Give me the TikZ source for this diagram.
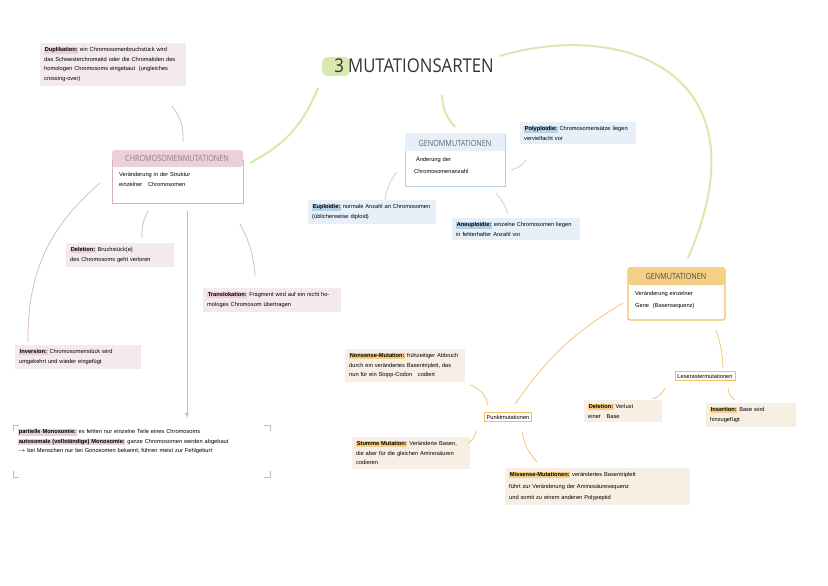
\documentclass[tikz,border=0pt]{standalone}
\usepackage{fontspec}
\setmainfont{Liberation Sans}
\newfontfamily\titlefont{Open Sans}
\definecolor{pfill}{HTML}{F4EAEE}
\definecolor{pband}{HTML}{EBCFDA}
\definecolor{pline}{HTML}{D4B2BF}
\definecolor{bfill}{HTML}{E7F0F9}
\definecolor{bline}{HTML}{B3D0E6}
\definecolor{ofill}{HTML}{F8EFE4}
\definecolor{oline}{HTML}{F1C063}
\definecolor{oband}{HTML}{F6CF86}
\definecolor{gline}{HTML}{D7E9AC}
\newcommand{\hl}[2]{{\setlength{\fboxsep}{0.6pt}\colorbox{#1}{\textbf{#2}}}}
\tikzset{
 txt/.style={font=\fontsize{5.7}{9.5}\selectfont, align=left, inner sep=4pt, anchor=north west},
 pbox/.style={txt, fill=pfill},
 bbox/.style={txt, fill=bfill},
 obox/.style={txt, fill=ofill},
 pcon/.style={draw=pline, line width=0.7pt},
 bcon/.style={draw=bline, line width=0.7pt},
 ocon/.style={draw=oline, line width=0.7pt},
 gcon/.style={draw=gline, line width=2pt},
 head/.style={font=\titlefont\fontsize{8.5}{10}\selectfont, inner sep=1pt, xscale=0.85},
}
\begin{document}
\begin{tikzpicture}[x=1pt,y=-1pt]
\useasboundingbox (0,0) rectangle (828,586);
% title
\fill[gline, rounded corners=6pt] (322,57) rectangle (350,76);
\node[font=\titlefont\fontsize{19}{20}\selectfont, text=black!80, xscale=0.88] (title) at (414,66) {3 MUTATIONSARTEN};

% Chromosomenmutationen
\fill[pband, rounded corners=3pt] (112,150) rectangle (243,167);
\draw[pline, line width=1pt] (112,160) -- (112,203) -- (243,203) -- (243,160);
\node[head, text=pline!70!black] at (177,158) {CHROMOSOMENMUTATIONEN};
\node[txt, text width=122pt] (chr) at (115,168) {Veränderung in der Struktur\\[1pt] einzelner\quad Chromosomen};

\node[pbox, text width=138pt] (dup) at (40,43) {\hl{pband}{Duplikation:} ein Chromosomenbruchstück wird das Schwesterchromatid oder die Chromatiden des homologen Chromosoms eingebaut \ (ungleiches crossing-over)};
\node[pbox, text width=100pt] (del) at (66,243) {\hl{pband}{Deletion:} Bruchstück(e)\\ des Chromosoms geht verloren};
\node[pbox, text width=130pt] (trans) at (203,288) {\hl{pband}{Translokation:} Fragment wird auf ein nicht homologes Chromosom übertragen};
\node[pbox, text width=118pt] (inv) at (15,345) {\hl{pband}{Inversion:} Chromosomenstück wird umgekehrt und wieder eingefügt};
\node[txt, text width=250pt, inner sep=5pt] (mono) at (13,424) {\hl{pband}{partielle Monosomie:} es fehlen nur einzelne Teile eines Chromosoms\\ \hl{pband}{autosomale (vollständige) Monosomie:} ganze Chromosomen werden abgebaut\\ $\to$ bei Menschen nur bei Gonosomen bekannt; führen meist zur Fehlgeburt};
\draw[pline, line width=0.7pt] (13,431) |- (19,425) (264,425) -| (270,431) (13,471) |- (19,477) (264,477) -| (270,471);

\draw[pcon] (172,106) to[bend left=20] (183,142);
\draw[pcon] (100,183) to[bend right=25] (28,342);
\draw[pcon] (148,211) to[bend right=15] (142,238);
\draw[pcon] (240,224) to[bend left=12] (255,276);
\draw[pcon, -latex] (187,211) -- (187,418);

% Genommutationen
\draw[bline, line width=1pt, fill=white] (405,134) rectangle (505,186);
\fill[bfill] (405,133) rectangle (505,151);
\node[head, text=bline!50!black] at (455,143) {GENOMMUTATIONEN};
\node[txt, text width=92pt] (gen) at (410,153) {\ Änderung der\\[2pt] Chromosomenanzahl};
\node[bbox, text width=108pt] (poly) at (520,122) {\hl{bline}{Polyploidie:} Chromosomensätze liegen vervielfacht vor};
\node[bbox, text width=120pt] (eu) at (308,200) {\hl{bline}{Euploidie:} normale Anzahl an Chromosomen (üblicherweise diploid)};
\node[bbox, text width=120pt] (aneu) at (452,218) {\hl{bline}{Aneuploidie:} einzelne Chromosomen liegen in fehlerhafter Anzahl vor};
\draw[bcon] (397,172) to[bend right=15] (385,200);
\draw[bcon] (511,170) to[bend right=20] (526,160);
\draw[bcon] (496,193) to[bend left=10] (508,214);

% Genmutationen
\draw[oline, line width=1.2pt, fill=white, rounded corners=2pt] (628,268) rectangle (725,320);
\fill[oband, rounded corners=3pt] (628,267) rectangle (725,285);
\node[head, text=black!70] at (676,276) {GENMUTATIONEN};
\node[txt, text width=90pt] (genm) at (631,287) {Veränderung einzelner\\[3pt] Gene\ \ (Basensequenz)};
\node[obox, text width=112pt] (nons) at (345,349) {\hl{oband}{Nonsense-Mutation:} frühzeitiger Abbruch durch ein verändertes Basentriplett, das nun für ein Stopp-Codon\quad codiert};
\node[txt, draw=oline, line width=0.8pt, inner sep=2.5pt, anchor=center] (punkt) at (508,417) {Punktmutationen};
\node[obox, text width=110pt] (stum) at (352,437) {\hl{oband}{Stumme Mutation:} Veränderte Basen, die aber für die gleichen Aminosäuren codieren};
\node[obox, text width=177pt] (miss) at (505,468) {\hl{oband}{Missense-Mutationen:} verändertes Basentriplett\\[2pt] führt zur Veränderung der Aminosäuresequenz\\[2pt] und somit zu einem anderen Polypeptid};
\node[txt, draw=oline, line width=0.8pt, inner sep=2.5pt, anchor=center] (lese) at (705,376) {Leserastermutationen};
\node[obox, text width=70pt] (del2) at (584,400) {\hl{oband}{Deletion:} Verlust\\ einer\quad Base};
\node[obox, text width=82pt] (ins) at (706,403) {\hl{oband}{Insertion:} Base wird\\ hinzugefügt};
\draw[ocon] (623,303) to[bend right=12] (515,404);
\draw[ocon] (716,330) to[bend left=8] (723,368);
\draw[ocon] (665,388) to[bend left=20] (653,399);
\draw[ocon] (728,388) to[bend right=25] (735,400);
\draw[ocon] (470,385) to[bend left=30] (488,405);
\draw[ocon] (476,431) to[bend left=25] (468,443);
\draw[ocon] (522,432) to[bend right=15] (537,462);

% green connectors
\draw[gcon] (318,88) to[bend left=20] (250,163);
\draw[gcon] (442,95) to[bend right=20] (455,127);
\draw[gcon] (500,56) .. controls (620,20) and (770,70) .. (688,258);
\end{tikzpicture}
\end{document}
